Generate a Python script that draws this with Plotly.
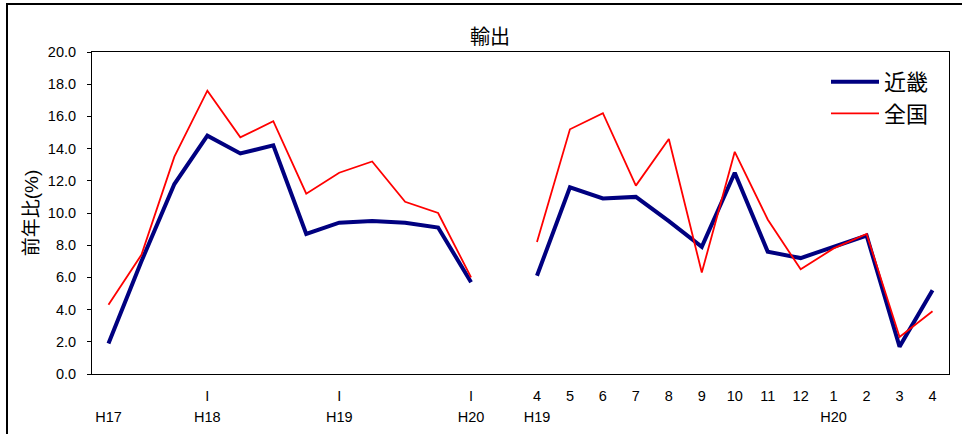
import plotly.graph_objects as go

# ---- data ----
top_labels = ["", "", "", "I", "", "", "", "I", "", "", "", "I", "",
              "4", "5", "6", "7", "8", "9", "10", "11", "12", "1", "2", "3", "4"]
year_labels = ["H17", "", "", "H18", "", "", "", "H19", "", "", "", "H20", "",
               "H19", "", "", "", "", "", "", "", "", "H20", "", "", ""]

# quarterly (H17 .. H20 I)
q_kinki = [1.9, 7.0, 11.8, 14.8, 13.7, 14.2, 8.7, 9.4, 9.5, 9.4, 9.1, 5.7]
q_zenkoku = [4.3, 7.4, 13.5, 17.6, 14.7, 15.7, 11.2, 12.5, 13.2, 10.7, 10.0, 6.0]
# monthly (H19.4 .. H20.4)
m_kinki = [6.1, 11.6, 10.9, 11.0, 9.5, 7.9, 12.5, 7.6, 7.2, 7.9, 8.6, 1.7, 5.2]
m_zenkoku = [8.2, 15.2, 16.2, 11.7, 14.6, 6.3, 13.8, 9.6, 6.5, 7.8, 8.7, 2.3, 3.9]

n_slots = len(top_labels)
xs = list(range(n_slots))
kinki = q_kinki + [None] + m_kinki
zenkoku = q_zenkoku + [None] + m_zenkoku

FONT = "Liberation Sans, Arial, Noto Sans CJK JP, sans-serif"

fig = go.Figure()
fig.add_trace(go.Scatter(x=xs, y=kinki, mode="lines", name="近畿",
                         line=dict(color="#000080", width=4), connectgaps=False))
fig.add_trace(go.Scatter(x=xs, y=zenkoku, mode="lines", name="全国",
                         line=dict(color="#FF0000", width=1.8), connectgaps=False))
# helper trace to activate second x-axis (year row)
fig.add_trace(go.Scatter(x=[0], y=[None], xaxis="x2", showlegend=False,
                         hoverinfo="skip", mode="lines"))

fig.update_layout(
    width=962, height=434,
    margin=dict(l=92, r=13, t=52, b=60),
    paper_bgcolor="white", plot_bgcolor="white",
    font=dict(family=FONT, size=14.5, color="black"),
    title=dict(text="輸出", x=(490 - 92) / 857, xref="paper", y=1 - 37 / 434,
               yanchor="middle", xanchor="center",
               font=dict(size=20, family=FONT, color="black")),
    showlegend=True,
    legend=dict(x=(826 - 92) / 857, y=1 - (61 - 52) / 322, xanchor="left", yanchor="top",
                bgcolor="rgba(0,0,0,0)", font=dict(size=22, family=FONT),
                itemwidth=48, tracegroupgap=0),
    xaxis=dict(range=[-0.5, n_slots - 0.5], tickmode="array", tickvals=xs,
               ticktext=top_labels, ticks="", showgrid=False, zeroline=False,
               showline=True, mirror=True, linecolor="black", linewidth=1,
               ticklabelstandoff=9, tickfont=dict(size=14.5), automargin=False),
    xaxis2=dict(range=[-0.5, n_slots - 0.5], overlaying="x", side="bottom",
                tickmode="array", tickvals=xs, ticktext=year_labels, ticks="",
                showgrid=False, zeroline=False, showline=False,
                ticklabelstandoff=32, tickfont=dict(size=14.5), automargin=False),
    yaxis=dict(range=[0, 20], dtick=2, tickformat=".1f", ticks="outside",
               ticklen=4, tickcolor="black", showgrid=False, zeroline=False,
               showline=True, mirror=True, linecolor="black", linewidth=1,
               ticklabelstandoff=8, tickfont=dict(size=14.5), automargin=False,
               title=dict(text="前年比(%)", standoff=4, font=dict(size=19))),
    shapes=[dict(type="rect", xref="paper", yref="paper",
                 x0=(7 - 92) / 857, x1=1.2, y0=-0.4, y1=1 + (52 - 4) / 322,
                 line=dict(color="black", width=2), layer="below")],
)

fig.write_html("out.html", config={"displayModeBar": False},
               post_script="document.body.style.margin='0';")
